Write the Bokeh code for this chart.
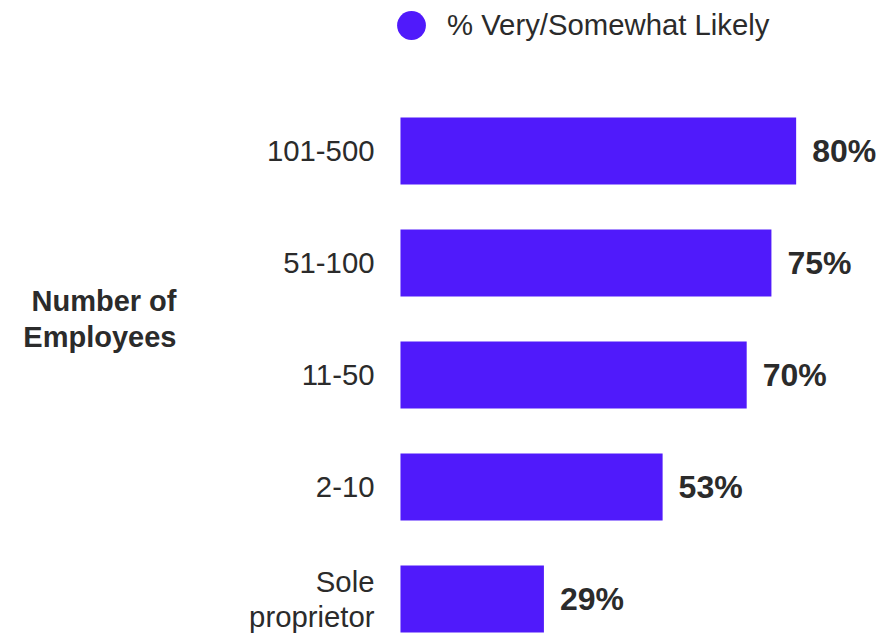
from bokeh.plotting import figure
from bokeh.models import ColumnDataSource, Range1d, Legend, LegendItem
from bokeh.core.properties import value
from bokeh.embed import file_html
from bokeh.resources import INLINE

categories = ["Sole\nproprietor", "2-10", "11-50", "51-100", "101-500"]
values = [29, 53, 70, 75, 80]
value_labels = ["29%", "53%", "70%", "75%", "80%"]
series_name = "% Very/Somewhat Likely"
axis_title = "Number of\nEmployees"

BAR = "#501AFB"
TXT = "#2b2b2b"
FONT = "Liberation Sans"

pos = list(range(len(categories)))
src = ColumnDataSource(dict(y=pos, v=values, lab=value_labels, cat=categories))

p = figure(width=892, height=635, output_backend="svg", toolbar_location=None,
           x_range=Range1d(-80.87, 99.48), y_range=Range1d(-0.326, 5.344),
           min_border=0, min_border_left=0, min_border_right=0,
           min_border_top=0, min_border_bottom=0)
p.xaxis.visible = False
p.yaxis.visible = False
p.xgrid.visible = False
p.ygrid.visible = False
p.outline_line_color = None
p.background_fill_color = "white"
p.border_fill_color = "white"

bars = p.hbar(y="y", right="v", left=0, height=0.6, source=src,
              fill_color=BAR, line_color=None)

p.text(x="v", y="y", text="lab", source=src, x_offset=16,
       text_font=value(FONT), text_font_style="bold", text_font_size="32px",
       text_color=TXT, text_align="left", text_baseline="middle")

p.text(x=0, y="y", text="cat", source=src, x_offset=-26,
       text_font=value(FONT), text_font_size="29.3px", text_line_height=1.04,
       text_color=TXT, text_align="right", text_baseline="middle")

# axis title
p.text(x=[0], y=[(pos[2] + pos[3]) / 2], text=[axis_title], x_offset=-224,
       text_font=value(FONT), text_font_style="bold", text_font_size="29px",
       text_line_height=1.1, text_color=TXT, text_align="right",
       text_baseline="middle")

# legend marker (renderer kept out of view; only its legend swatch is shown)
dummy = p.scatter(x=[-1000], y=[-1000], size=29, marker="circle",
                  fill_color=BAR, line_color=None)
legend = Legend(items=[LegendItem(label=series_name, renderers=[dummy])],
                location=(375, 574), orientation="horizontal",
                label_text_font=FONT, label_text_font_size="29.3px",
                label_text_color=TXT, glyph_width=72, glyph_height=72,
                label_standoff=0, border_line_color=None,
                background_fill_alpha=0, padding=0, margin=0, spacing=0)
p.add_layout(legend, "center")

open("out.html", "w").write(file_html(p, INLINE))
